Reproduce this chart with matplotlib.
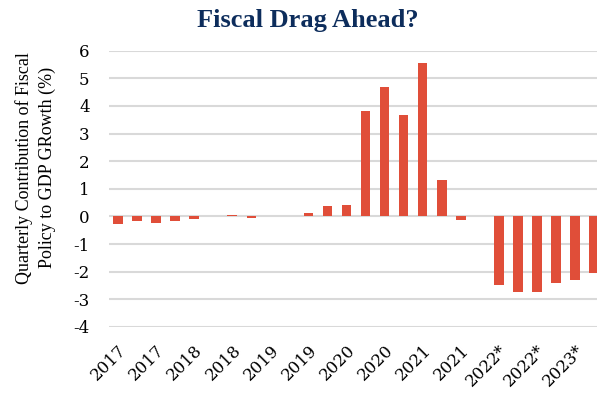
import numpy as np
import matplotlib
matplotlib.use("Agg")
import matplotlib.pyplot as plt

# quarterly values, 2017 Q1 .. 2023 Q2
values = [-0.27, -0.17, -0.22, -0.16, -0.09, 0.0, 0.06, -0.04,
          0.0, 0.03, 0.13, 0.38, 0.42, 3.82, 4.68, 3.68,
          5.54, 1.31, -0.11, 0.0, -2.49, -2.72, -2.74, -2.41,
          -2.29, -2.05]
tick_labels = ['2017', '2017', '2018', '2018', '2019', '2019', '2020',
               '2020', '2021', '2021', '2022*', '2022*', '2023*']

plt.rcParams['font.family'] = ['DejaVu Serif']
plt.rcParams['axes.unicode_minus'] = False

fig = plt.figure(figsize=(5.97, 3.93), dpi=100)
ax = fig.add_axes([0.1826, 0.168, 0.8174, 0.703])

x = np.arange(len(values))
ax.bar(x, values, width=0.5, color='#e04e39', zorder=3)

ax.set_ylim(-4, 6)
ax.set_yticks(range(-4, 7))
ax.set_xlim(-0.47, 25.15)
ax.set_xticks(x[::2])
ax.set_xticklabels(tick_labels, rotation=45, ha='right', rotation_mode='anchor',
                   fontsize=12)
ax.tick_params(axis='y', labelsize=12, length=0, pad=14)
ax.tick_params(axis='x', length=0, pad=11)
ax.grid(True, axis='y', color='#d9d9d9', linewidth=1.5, zorder=0)
for s in ax.spines.values():
    s.set_visible(False)

lab_font = ['Liberation Serif']
fig.text(0.040, 0.573, 'Quarterly Contribution of Fiscal', rotation=90,
         ha='center', va='center', fontsize=13, family=lab_font)
fig.text(0.080, 0.573, 'Policy to GDP GRowth (%)', rotation=90,
         ha='center', va='center', fontsize=13, family=lab_font)

fig.text(0.516, 0.947, 'Fiscal Drag Ahead?', ha='center', va='center',
         fontsize=19, fontweight='bold', color='#0d2d5c', family=lab_font)

fig.savefig('out.png', dpi=100)
